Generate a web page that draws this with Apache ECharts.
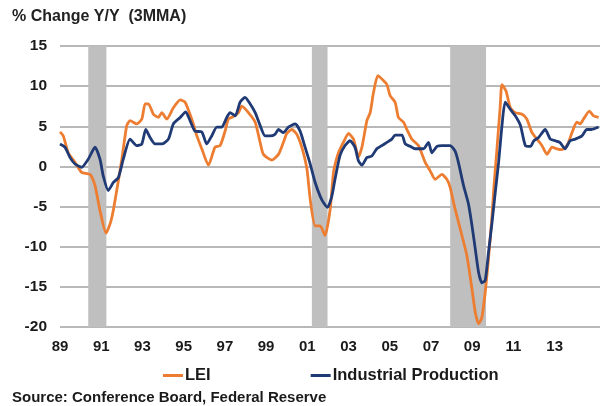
<!DOCTYPE html>
<html lang="en">
<head>
<meta charset="UTF-8">
<title>LEI vs Industrial Production</title>
<style>
  html, body { margin: 0; padding: 0; background: #fff; }
</style>
</head>
<body>
<div id="main" style="width:605px;height:406px;"></div>
<script src="https://cdn.jsdelivr.net/npm/echarts@6/dist/echarts.min.js"></script>
<script>
// decimal years and % change y/y (3mma)
var leiYears = [1989.00, 1989.16, 1989.40, 1989.73, 1990.05, 1990.46, 1990.70, 1990.94, 1991.23, 1991.45, 1991.62,
  1992.00, 1992.24, 1992.40, 1992.72, 1992.97, 1993.13, 1993.29, 1993.53, 1993.77, 1993.94, 1994.18, 1994.50, 1994.83,
  1995.07, 1995.39, 1995.64, 1995.88, 1996.20, 1996.52, 1996.77, 1997.01, 1997.17, 1997.41, 1997.66, 1997.82,
  1998.14, 1998.47, 1998.71, 1998.87, 1999.28, 1999.60, 1999.84, 2000.00, 2000.25, 2000.49, 2000.73, 2000.98,
  2001.14, 2001.38, 2001.62, 2001.86, 2002.11, 2002.27, 2002.51, 2002.75, 2003.00, 2003.24, 2003.48, 2003.65,
  2003.89, 2004.05, 2004.21, 2004.42, 2004.69, 2004.86, 2005.02, 2005.26, 2005.42, 2005.67, 2005.83, 2006.07,
  2006.39, 2006.72, 2006.96, 2007.20, 2007.53, 2007.77, 2007.93, 2008.14, 2008.26, 2008.50, 2008.74, 2008.99,
  2009.15, 2009.31, 2009.47, 2009.63, 2009.79, 2009.96, 2010.04, 2010.20, 2010.36, 2010.44, 2010.64, 2010.85,
  2011.09, 2011.42, 2011.65, 2011.90, 2012.14, 2012.38, 2012.63, 2012.87, 2013.11, 2013.35, 2013.60, 2013.84,
  2014.08, 2014.24, 2014.40, 2014.68, 2014.89, 2015.13];
var leiValues = [4.3, 3.8, 1.7, 0.5, -0.75, -1.0, -2.4, -5.5, -8.3, -7.0, -5.0,
  0.9, 5.1, 5.7, 5.3, 5.9, 7.8, 7.8, 6.5, 6.1, 6.7, 5.9, 7.3, 8.3,
  8.0, 5.9, 3.8, 2.2, 0.15, 2.4, 2.6, 4.4, 5.9, 6.2, 6.7, 7.5,
  6.7, 5.5, 3.0, 1.5, 0.8, 1.5, 3.0, 4.1, 4.6, 4.0, 2.4, -0.3,
  -4.1, -7.4, -7.4, -8.6, -5.3, -0.75, 1.7, 3.0, 4.1, 3.4, 1.2, 2.4,
  5.7, 6.7, 9.2, 11.3, 10.7, 10.2, 8.8, 8.0, 6.1, 5.5, 4.6, 3.4,
  2.6, 0.5, -0.55, -1.6, -1.0, -1.6, -2.6, -5.0, -6.2, -8.6, -11.1, -15.3,
  -18.2, -19.6, -18.8, -15.7, -11.5, -6.2, -3.0, 2.2, 7.5, 10.2, 9.4, 7.3,
  6.7, 6.5, 5.9, 4.2, 3.4, 2.6, 1.5, 2.4, 2.2, 2.1, 2.6, 4.2,
  5.5, 5.3, 5.9, 6.9, 6.3, 6.1];

var ipYears = [1989.00, 1989.24, 1989.49, 1989.73, 1990.05, 1990.37, 1990.70, 1990.94, 1991.10, 1991.34, 1991.59,
  1991.83, 1992.07, 1992.40, 1992.72, 1992.97, 1993.16, 1993.37, 1993.61, 1993.94, 1994.26, 1994.50, 1994.83,
  1995.10, 1995.31, 1995.55, 1995.88, 1996.12, 1996.36, 1996.61, 1996.85, 1997.09, 1997.25, 1997.50, 1997.74,
  1997.98, 1998.22, 1998.47, 1998.71, 1998.95, 1999.19, 1999.43, 1999.60, 1999.84, 2000.08, 2000.41, 2000.65,
  2000.89, 2001.14, 2001.38, 2001.62, 2001.78, 2001.98, 2002.19, 2002.35, 2002.59, 2002.83, 2003.07, 2003.31,
  2003.48, 2003.65, 2003.89, 2004.13, 2004.37, 2004.62, 2004.86, 2005.10, 2005.26, 2005.59, 2005.75, 2005.99,
  2006.23, 2006.64, 2006.88, 2007.04, 2007.29, 2007.53, 2007.93, 2008.17, 2008.33, 2008.58, 2008.82, 2008.99,
  2009.15, 2009.31, 2009.47, 2009.63, 2009.79, 2009.96, 2010.12, 2010.28, 2010.46, 2010.60, 2010.85, 2011.09,
  2011.34, 2011.58, 2011.83, 2011.99, 2012.22, 2012.54, 2012.79, 2013.03, 2013.25, 2013.50, 2013.75, 2014.00,
  2014.32, 2014.56, 2014.79, 2015.13];
var ipValues = [2.8, 2.4, 1.1, 0.3, -0.1, 0.9, 2.4, 0.9, -1.2, -3.0, -2.0,
  -1.4, 0.9, 3.4, 2.6, 2.8, 4.6, 3.6, 2.8, 2.8, 3.4, 5.3, 6.1,
  6.8, 5.7, 4.4, 4.3, 2.8, 3.8, 4.9, 4.9, 6.1, 6.7, 6.3, 8.0,
  8.6, 7.8, 6.7, 5.1, 3.8, 3.8, 4.0, 4.6, 4.2, 4.9, 5.3, 4.4,
  2.4, 0.3, -2.0, -3.7, -4.5, -5.1, -3.7, -1.5, 1.4, 2.6, 3.2, 2.4,
  0.7, 0.15, 1.1, 1.3, 2.2, 2.6, 3.0, 3.4, 3.9, 3.9, 2.8, 2.5,
  2.2, 2.2, 3.0, 1.7, 2.5, 2.6, 2.6, 1.9, 0.5, -2.4, -4.7, -7.4,
  -10.3, -13.2, -14.5, -14.2, -10.7, -7.0, -3.2, 0.5, 5.5, 8.0, 7.1, 6.3,
  5.1, 2.6, 2.5, 3.2, 3.6, 4.6, 3.4, 3.2, 3.0, 2.2, 3.2, 3.4,
  3.8, 4.6, 4.6, 4.9];

// recessions (shaded)
var recessions = [[1990.37, 1991.25], [2001.22, 2001.98], [2007.93, 2009.67]];

var xTickYears = [1989, 1991, 1993, 1995, 1997, 1999, 2001, 2003, 2005, 2007, 2009, 2011, 2013];

function zip(xs, ys) {
    var out = [];
    for (var i = 0; i < xs.length; i++) out.push([xs[i], ys[i]]);
    return out;
}

var font = 'Arial, "Liberation Sans", sans-serif';
var textColor = '#1a1a1a';

var myChart = echarts.init(document.getElementById('main'));
var option = {
    animation: false,
    title: {
        text: '% Change Y/Y  (3MMA)',
        left: 12,
        top: 9,
        padding: 0,
        textStyle: { fontFamily: font, fontSize: 16, fontWeight: 'bold', color: '#222' }
    },
    legend: {
        left: 158,
        top: 362,
        itemGap: 100,
        itemWidth: 20,
        itemHeight: 3,
        icon: 'rect',
        textStyle: { fontFamily: font, fontSize: 16.5, fontWeight: 'bold', color: textColor, padding: [0, 0, 0, -3] },
        data: ['LEI', 'Industrial Production']
    },
    graphic: [{
        type: 'text',
        left: 12,
        top: 390,
        style: {
            text: 'Source: Conference Board, Federal Reserve',
            font: 'bold 15px ' + font,
            fill: textColor
        }
    }],
    grid: { left: 60, right: 5, top: 46, bottom: 79 },
    xAxis: {
        type: 'value',
        min: 1989,
        max: 2015.2,
        interval: 2,
        axisLine: { show: false },
        axisTick: { show: false },
        splitLine: { show: false },
        axisLabel: {
            margin: 12,
            fontFamily: font,
            fontSize: 15,
            fontWeight: 'bold',
            color: textColor,
            formatter: function (v) {
                if (xTickYears.indexOf(v) < 0) return '';
                return String(v).slice(2);
            }
        }
    },
    yAxis: {
        type: 'value',
        min: -20,
        max: 15,
        interval: 5,
        axisLine: { show: false },
        axisTick: { show: false },
        splitLine: { lineStyle: { color: '#a0a0a0', width: 1.5 } },
        axisLabel: {
            margin: 13,
            fontFamily: font,
            fontSize: 15.5,
            fontWeight: 'bold',
            color: textColor
        }
    },
    series: [
        {
            name: 'LEI',
            type: 'line',
            data: zip(leiYears, leiValues),
            showSymbol: false,
            smooth: 0.2,
            z: 3,
            itemStyle: { color: '#ED7D31' },
            lineStyle: { color: '#ED7D31', width: 2.8 },
            markArea: {
                silent: true,
                itemStyle: { color: '#BFBFBF' },
                data: recessions.map(function (r) { return [{ xAxis: r[0] }, { xAxis: r[1] }]; })
            }
        },
        {
            name: 'Industrial Production',
            type: 'line',
            data: zip(ipYears, ipValues),
            showSymbol: false,
            smooth: 0.2,
            z: 4,
            itemStyle: { color: '#1F3A74' },
            lineStyle: { color: '#1F3A74', width: 2.8 }
        }
    ]
};
myChart.setOption(option);
</script>
</body>
</html>
